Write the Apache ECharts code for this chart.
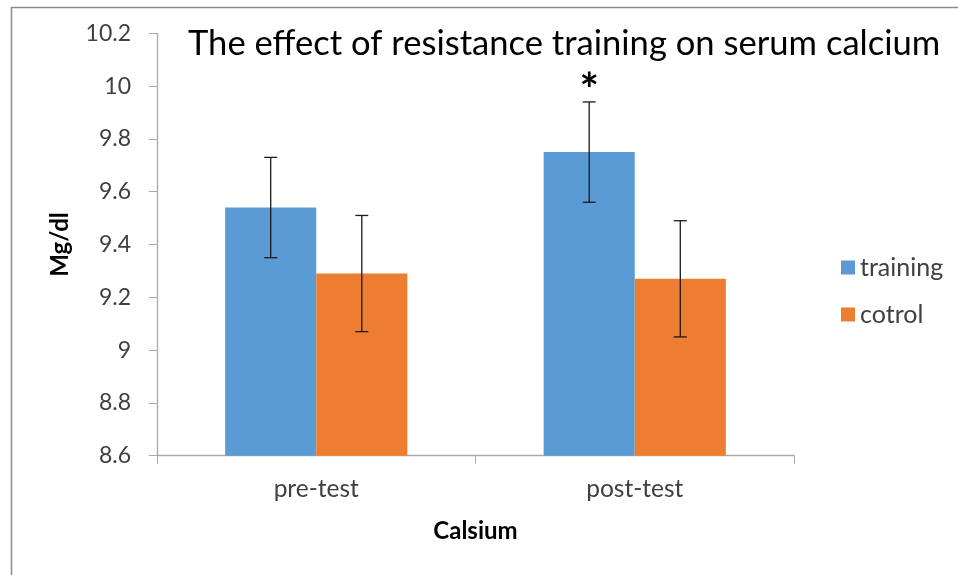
<!DOCTYPE html>
<html>
<head>
<meta charset="utf-8">
<script src="https://cdn.jsdelivr.net/npm/echarts@6/dist/echarts.min.js"></script>
<style>
html,body{margin:0;padding:0;background:#fff;}
#chart{width:958px;height:575px;}
</style>
</head>
<body>
<div id="chart"></div>
<script>
var categories = ['pre-test', 'post-test'];
var seriesNames = ['training', 'cotrol'];
var trainingValues = [9.54, 9.75];
var controlValues = [9.29, 9.27];
var trainingLow = [9.35, 9.56];
var trainingHigh = [9.73, 9.94];
var controlLow = [9.07, 9.05];
var controlHigh = [9.51, 9.49];
var trainingMarks = ['', '*'];
var controlMarks = ['', ''];
var yTicks = { min: 8.6, max: 10.2, step: 0.2 };

var FONT = 'Lato, "Open Sans", sans-serif';
var BAR_FRAC = 0.286;

function errData(low, high, marks) {
  return categories.map(function (c, i) { return [i, low[i], high[i], marks[i]]; });
}

function makeErr(offsetSign) {
  return function (params, api) {
    var ci = api.value(0);
    var band = api.size([1, 0])[0];
    var off = offsetSign * band * BAR_FRAC / 2;
    var pLow = api.coord([ci, api.value(1)]);
    var pHigh = api.coord([ci, api.value(2)]);
    var x = pLow[0] + off;
    var cap = 6.5;
    var style = { stroke: '#1a1a1a', lineWidth: 1.3 };
    var children = [
      { type: 'line', shape: { x1: x, y1: pLow[1], x2: x, y2: pHigh[1] }, style: style },
      { type: 'line', shape: { x1: x - cap, y1: pLow[1], x2: x + cap, y2: pLow[1] }, style: style },
      { type: 'line', shape: { x1: x - cap, y1: pHigh[1], x2: x + cap, y2: pHigh[1] }, style: style }
    ];
    var mark = api.value(3);
    if (mark) {
      children.push({
        type: 'text',
        style: {
          text: mark, x: x, y: pHigh[1] + 12,
          align: 'center', verticalAlign: 'bottom',
          font: 'bold 46px ' + FONT, fill: '#000'
        }
      });
    }
    return { type: 'group', children: children };
  };
}

var chart = echarts.init(document.getElementById('chart'));
chart.setOption({
  animation: false,
  backgroundColor: '#fff',
  graphic: [{
    type: 'rect', left: 9, top: 5, shape: { x: 0, y: 0, width: 1000, height: 600 },
    style: { fill: 'none', stroke: '#8c8c8c', lineWidth: 1.5 }, silent: true
  }],
  title: {
    text: 'The effect of resistance training on serum calcium',
    left: 183, top: 21,
    textStyle: { fontFamily: FONT, fontWeight: 'normal', fontSize: 34.6, color: '#000' }
  },
  legend: {
    data: seriesNames,
    orient: 'vertical',
    left: 836, top: 250,
    itemWidth: 14, itemHeight: 14, itemGap: 22,
    icon: 'rect',
    textStyle: { fontFamily: FONT, fontSize: 25, color: '#404040' }
  },
  grid: { left: 157, right: 164, top: 33.3, bottom: 119.3 },
  xAxis: {
    type: 'category',
    data: categories,
    name: 'Calsium',
    nameLocation: 'middle',
    nameGap: 64,
    nameTextStyle: { fontFamily: FONT, fontWeight: 'bold', fontSize: 24, color: '#000' },
    axisLine: { lineStyle: { color: '#aaaaaa', width: 1.3 } },
    axisTick: { show: true, length: 8, lineStyle: { color: '#aaaaaa' } },
    axisLabel: { fontFamily: FONT, fontSize: 24.5, color: '#404040', margin: 21 }
  },
  yAxis: {
    type: 'value',
    min: yTicks.min, max: yTicks.max, interval: yTicks.step,
    name: 'Mg/dl',
    nameLocation: 'middle',
    nameGap: 85,
    nameRotate: 90,
    nameTextStyle: { fontFamily: FONT, fontWeight: 'bold', fontSize: 24, color: '#000' },
    axisLine: { show: true, lineStyle: { color: '#aaaaaa', width: 1.3 } },
    axisTick: { show: true, length: 8, lineStyle: { color: '#aaaaaa' } },
    splitLine: { show: false },
    axisLabel: {
      fontFamily: FONT, fontSize: 23, color: '#404040', margin: 26,
      formatter: function (v) { return String(+v.toFixed(1)); }
    }
  },
  series: [
    { name: seriesNames[0], type: 'bar', data: trainingValues, barWidth: (BAR_FRAC * 100) + '%', barGap: '0%',
      itemStyle: { color: '#5B9BD5' } },
    { name: seriesNames[1], type: 'bar', data: controlValues, barWidth: (BAR_FRAC * 100) + '%', barGap: '0%',
      itemStyle: { color: '#ED7D31' } },
    { type: 'custom', renderItem: makeErr(-1), data: errData(trainingLow, trainingHigh, trainingMarks), z: 10,
      encode: { x: 0, y: [1, 2] } },
    { type: 'custom', renderItem: makeErr(1), data: errData(controlLow, controlHigh, controlMarks), z: 10,
      encode: { x: 0, y: [1, 2] } }
  ]
});
</script>
</body>
</html>
